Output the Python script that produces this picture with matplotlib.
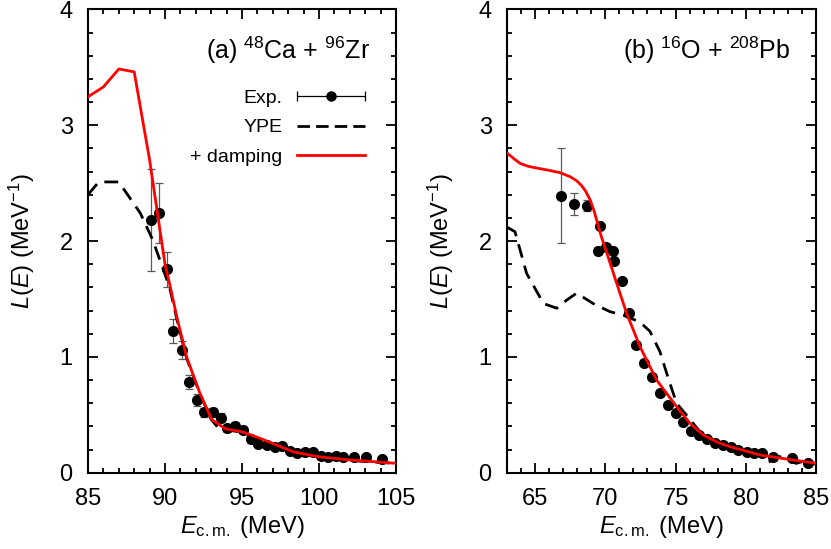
import numpy as np
import matplotlib
matplotlib.use("Agg")
from matplotlib import pyplot as plt
from matplotlib.lines import Line2D
from matplotlib.collections import LineCollection
from matplotlib.container import ErrorbarContainer
from matplotlib.legend_handler import HandlerErrorbar
from matplotlib.ticker import MultipleLocator

plt.rcParams['font.family'] = ['Liberation Sans', 'DejaVu Sans']
plt.rcParams['mathtext.fontset'] = 'custom'
plt.rcParams['mathtext.rm'] = 'Liberation Sans'
plt.rcParams['mathtext.it'] = 'Liberation Sans:italic'

# ---- panel (a): 48Ca + 96Zr ----
exp_a_x = [89.09, 89.61, 90.11, 90.54, 91.08, 91.58, 92.05, 92.55, 93.14, 93.61,
           94.0, 94.55, 95.04, 95.56, 96.06, 96.6, 97.14, 97.6, 98.12, 98.6,
           99.09, 99.59, 100.11, 100.6, 101.1, 101.58, 102.27, 103.05, 104.07]
exp_a_y = [2.18, 2.24, 1.755, 1.223, 1.06, 0.78, 0.627, 0.52, 0.52, 0.475,
           0.383, 0.406, 0.37, 0.29, 0.248, 0.239, 0.225, 0.23, 0.187, 0.173,
           0.176, 0.176, 0.147, 0.138, 0.147, 0.133, 0.133, 0.138, 0.115]
exp_a_err = [0.44, 0.26, 0.15, 0.10, 0.08, 0.06, 0.05, 0.04, 0.04, 0.04,
             0.03, 0.03, 0.03, 0.03, 0.02, 0.02, 0.02, 0.02, 0.02, 0.02,
             0.02, 0.02, 0.02, 0.02, 0.02, 0.02, 0.02, 0.02, 0.02]

ype_a_x = [85, 85.7, 87, 88.4, 89.2, 89.9, 90.3, 90.76, 91.4, 92.27, 93.0,
           93.5, 93.94, 94.98, 96.17, 98.33, 99.95, 102, 105]
ype_a_y = [2.40, 2.51, 2.51, 2.24, 2.01, 1.75, 1.60, 1.33, 0.99, 0.68, 0.46,
           0.38, 0.37, 0.35, 0.29, 0.18, 0.135, 0.105, 0.08]

damp_a_x = [85, 86, 87, 88, 89, 89.5, 90, 90.3, 90.76, 91.4, 92.27, 93.03,
            93.94, 94.98, 96.17, 98.33, 99.95, 102, 105]
damp_a_y = [3.245, 3.33, 3.485, 3.46, 2.70, 2.25, 1.80, 1.63, 1.35, 1.0, 0.685,
            0.46, 0.377, 0.354, 0.297, 0.18, 0.138, 0.11, 0.081]

# ---- panel (b): 16O + 208Pb ----
exp_b_x = [66.82, 67.77, 68.67, 69.45, 69.62, 70.05, 70.57, 70.62, 71.16, 71.7,
           72.22, 72.74, 73.29, 73.88, 74.43, 75.0, 75.55, 76.1, 76.69, 77.21,
           77.8, 78.35, 78.92, 79.46, 80.06, 80.6, 81.17, 81.95, 83.26, 84.45]
exp_b_y = [2.39, 2.32, 2.305, 1.915, 2.13, 1.945, 1.915, 1.83, 1.655, 1.38,
           1.10, 0.95, 0.83, 0.685, 0.585, 0.518, 0.44, 0.363, 0.325, 0.288,
           0.254, 0.239, 0.219, 0.196, 0.181, 0.173, 0.167, 0.133, 0.124, 0.081]
exp_b_err = [0.41, 0.095, 0.05, 0.03, 0.02, 0.02, 0.02, 0.02, 0.02, 0.02,
             0.02, 0.02, 0.02, 0.02, 0.02, 0.02, 0.02, 0.02, 0.02, 0.02,
             0.02, 0.02, 0.02, 0.02, 0.02, 0.02, 0.02, 0.02, 0.02, 0.02]

ype_b_x = [63, 63.57, 64.4, 65.6, 66.54, 67.25, 67.96, 69.14, 70.33, 71.28,
           72.47, 73.18, 73.89, 74.6, 75.08, 76.97, 78.87, 81.0, 81.6, 82.4,
           83.0, 83.6, 84.4, 85]
ype_b_y = [2.12, 2.08, 1.72, 1.46, 1.42, 1.49, 1.55, 1.46, 1.39, 1.36,
           1.30, 1.22, 1.045, 0.77, 0.60, 0.32, 0.22, 0.15, 0.09, 0.14,
           0.11, 0.08, 0.11, 0.07]

damp_b_x = [63, 63.5, 63.93, 64.5, 65.11, 66.0, 66.77, 67.5, 67.96, 68.3,
            68.6, 68.9, 69.2, 69.5, 69.74, 70.1, 70.81, 71.52, 72.47, 73.65,
            75.08, 76.0, 76.97, 78.0, 78.87, 81.0, 82.9, 85]
damp_b_y = [2.76, 2.71, 2.67, 2.645, 2.63, 2.61, 2.59, 2.555, 2.52, 2.48,
            2.43, 2.36, 2.26, 2.13, 2.03, 1.90, 1.635, 1.376, 1.088, 0.80,
            0.57, 0.43, 0.325, 0.262, 0.225, 0.153, 0.118, 0.081]

panels = [
    dict(exp=(exp_a_x, exp_a_y, exp_a_err), ype=(ype_a_x, ype_a_y),
         damp=(damp_a_x, damp_a_y), xlim=(85, 105), xmajor=5,
         title=r'(a) $^{48}$Ca + $^{96}$Zr'),
    dict(exp=(exp_b_x, exp_b_y, exp_b_err), ype=(ype_b_x, ype_b_y),
         damp=(damp_b_x, damp_b_y), xlim=(63, 85), xmajor=5,
         title=r'(b) $^{16}$O + $^{208}$Pb'),
]

fig = plt.figure(figsize=(8.31, 5.49), dpi=100)
rects = [[0.1059, 0.139, 0.3706, 0.844], [0.6101, 0.139, 0.3718, 0.844]]

for i, p in enumerate(panels):
    ax = fig.add_axes(rects[i])
    ex, ey, ee = p['exp']
    ax.errorbar(ex, ey, yerr=ee, fmt='o', color='k', ms=7, ecolor='0.35',
                elinewidth=0.9, capsize=3, capthick=0.9, zorder=2)
    ax.plot(*p['ype'], color='k', lw=2, ls=(0, (5, 3)), zorder=3)
    ax.plot(*p['damp'], color='#ff0000', lw=2, zorder=4)

    ax.set_xlim(*p['xlim'])
    ax.set_ylim(0, 4)
    ax.xaxis.set_major_locator(MultipleLocator(p['xmajor']))
    ax.xaxis.set_minor_locator(MultipleLocator(1))
    ax.yaxis.set_major_locator(MultipleLocator(1))
    ax.yaxis.set_minor_locator(MultipleLocator(0.2))
    ax.tick_params(which='both', direction='in', top=True, right=True,
                   width=1.3, labelsize=17)
    ax.tick_params(which='major', length=7)
    ax.tick_params(axis='x', which='major', pad=11)
    ax.tick_params(axis='y', which='major', pad=11)
    ax.tick_params(which='minor', length=3.5)
    for s in ax.spines.values():
        s.set_linewidth(1.5)

    ax.set_xlabel(r'$E_{\rm c.m.}$ (MeV)', fontsize=17, labelpad=3)
    ax.set_ylabel(r'$L(E)$ (MeV$^{-1}$)', fontsize=17, labelpad=16)
    ax.text(0.916, 0.912, p['title'], transform=ax.transAxes, ha='right',
            va='center', fontsize=18)

    if i == 0:
        dot = Line2D([], [], ls='none', marker='o', color='k', ms=6.5)
        cap = Line2D([], [], ls='none', marker='|', color='k', ms=7, mew=0.9)
        bar = LineCollection([], colors='k', linewidths=0.9)
        exp_handle = ErrorbarContainer((dot, (cap, cap), (bar,)),
                                       has_xerr=True, has_yerr=False,
                                       label='Exp.')
        ype_handle = Line2D([], [], color='k', lw=2, ls=(0, (4.5, 2.2)))
        damp_handle = Line2D([], [], color='#ff0000', lw=2)
        ax.legend([exp_handle, ype_handle, damp_handle],
                  ['Exp.', 'YPE', '+ damping'],
                  handler_map={ErrorbarContainer: HandlerErrorbar(xerr_size=1.75)},
                  loc='upper right', bbox_to_anchor=(0.9, 0.828),
                  frameon=False, markerfirst=False, fontsize=14,
                  handlelength=3.5, handletextpad=0.75, labelspacing=0.62,
                  borderpad=0, borderaxespad=0)

fig.savefig('out.png', dpi=100)
